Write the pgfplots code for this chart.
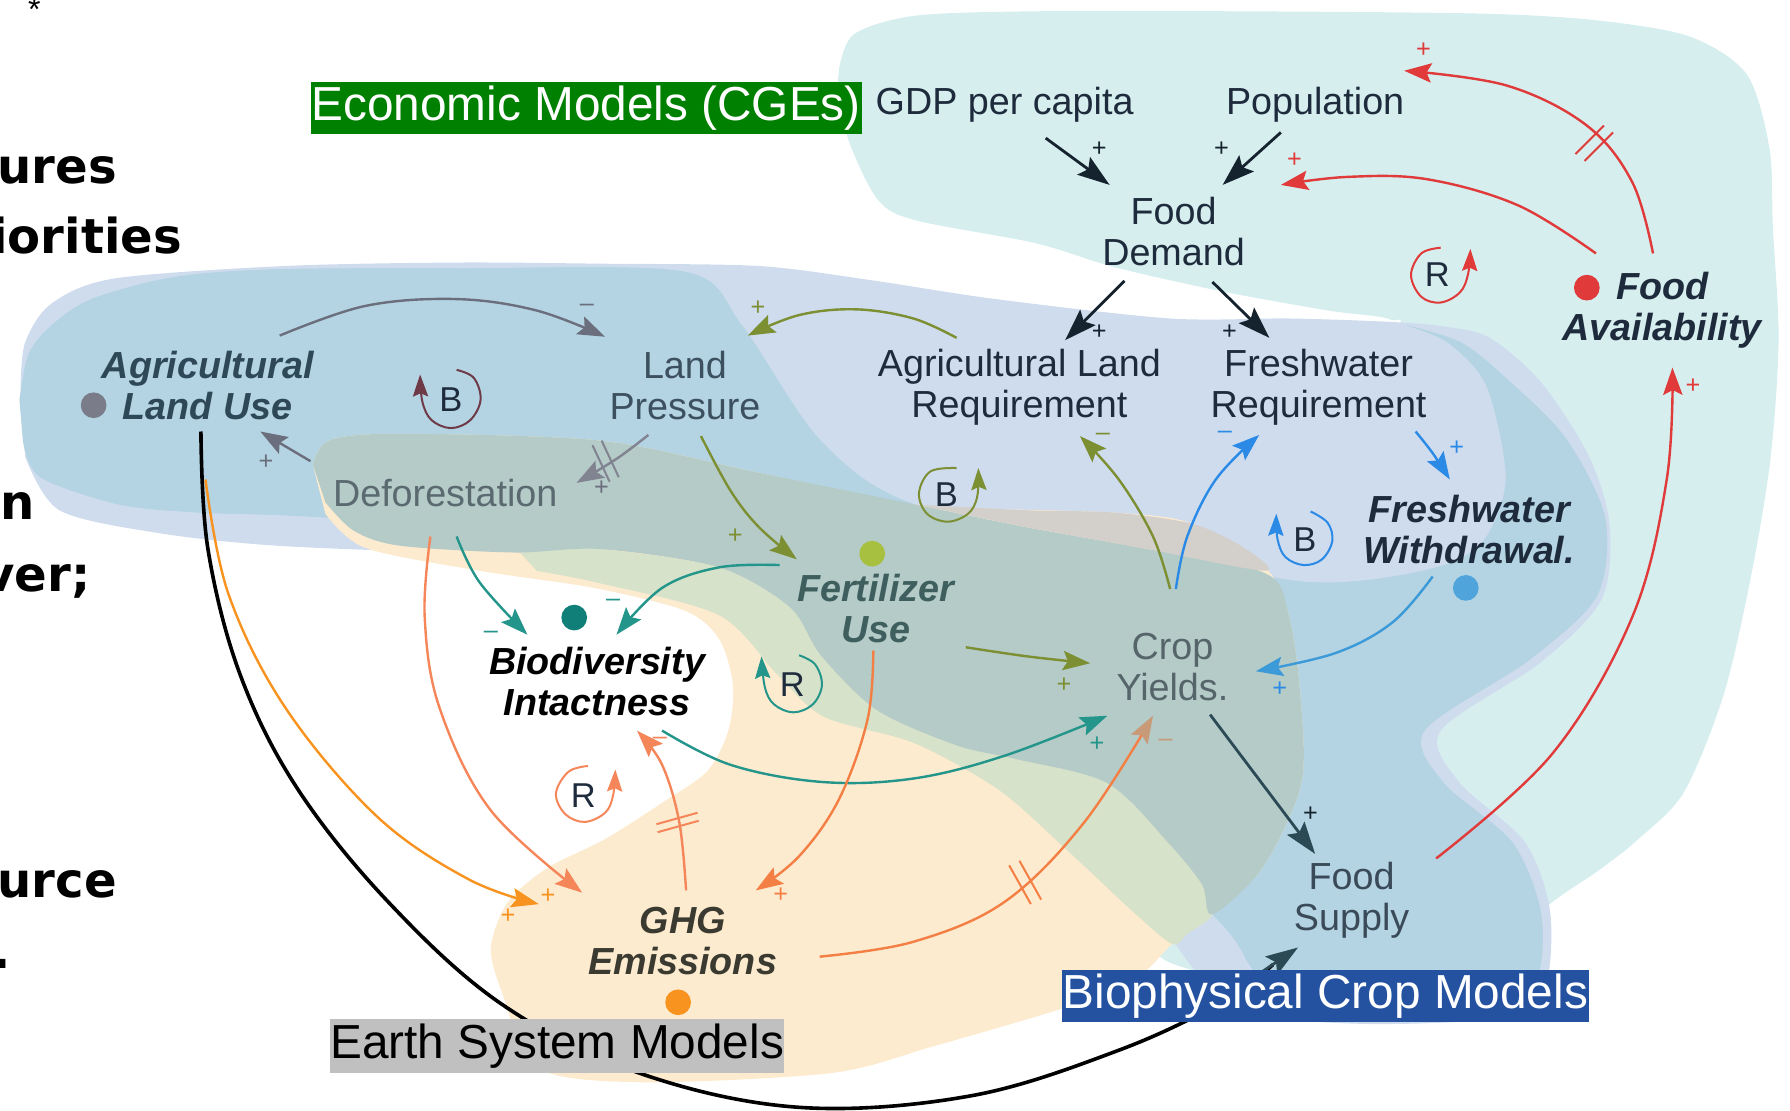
\documentclass[border=0pt]{standalone}
\usepackage{fontspec}
\setmainfont{Liberation Sans}
\newfontfamily\dvs{DejaVu Sans}
\usepackage{pgfplots}
\pgfplotsset{compat=1.18}
\usetikzlibrary{arrows.meta}
\definecolor{cyanC}{HTML}{D6EEEE}
\definecolor{lav}{HTML}{CFDCEE}
\definecolor{steel}{HTML}{B4D4E3}
\definecolor{peach}{HTML}{FDEBD0}
\definecolor{lgreen}{HTML}{D6E2C9}
\definecolor{gg}{HTML}{B4CBC8}
\definecolor{grayr}{HTML}{D3D0CC}
\definecolor{navy}{HTML}{1E2B3C}
\definecolor{darkA}{HTML}{15232E}
\definecolor{slateA}{HTML}{2B4A55}
\definecolor{grayA}{HTML}{6B6E7C}
\definecolor{maroonA}{HTML}{6E3A48}
\definecolor{oliveA}{HTML}{7D8F33}
\definecolor{blueA}{HTML}{2A8AE6}
\definecolor{blueB}{HTML}{3C9AD8}
\definecolor{tealA}{HTML}{23958A}
\definecolor{orangeA}{HTML}{F7931E}
\definecolor{salmonA}{HTML}{F5865A}
\definecolor{orangeB}{HTML}{F47F45}
\definecolor{tanA}{HTML}{C89A78}
\definecolor{redA}{HTML}{E03A3A}
\definecolor{econgreen}{HTML}{008000}
\definecolor{esmgray}{HTML}{C0C0C0}
\definecolor{biob}{HTML}{2452A0}
\tikzset{
 lab/.style={font=\fontsize{9.4}{10.24}\selectfont, align=center, inner sep=0pt},
 labbi/.style={font=\fontsize{9.4}{10.24}\selectfont\bfseries\itshape, align=center, inner sep=0pt},
 sg/.style={font=\fontsize{6.3}{6.3}\selectfont, inner sep=0pt},
 loopl/.style={font=\fontsize{8.6}{9}\selectfont, inner sep=0pt, text=navy},
 frag/.style={font=\fontsize{12}{12}\selectfont\dvs\bfseries, inner sep=0pt, anchor=base east},
 box/.style={inner sep=0pt, font=\fontsize{11.9}{12}\selectfont},
}
\pgfplotsset{
 ar/.style={smooth, tension=0.6, line width=0.6pt, -{Stealth[length=6.8pt,width=4.8pt,inset=1.2pt]}},
 ard/.style={smooth, tension=0.6, line width=0.7pt, -{Stealth[length=8pt,width=5.4pt,inset=1.4pt]}},
 blob/.style={smooth, tension=0.5, draw=none},
 hl/.style={line width=0.5pt},
 lp/.style={smooth, tension=0.6, line width=0.5pt, -{Stealth[length=5.5pt,width=3.8pt,inset=0.8pt]}},
 rect/.style={draw=none},
}
\begin{document}
\begin{tikzpicture}
\begin{axis}[width=156.8mm, height=97.3mm, scale only axis, xmin=0, xmax=1568, ymin=0, ymax=973, y dir=reverse, hide axis, clip=false, set layers]
\coordinate (BL) at (axis cs:0,973);
\coordinate (TR) at (axis cs:1568,0);
% ---- blobs
\addplot[blob, fill=cyanC] coordinates {(735,60) (748,30) (800,14) (900,10) (1100,10) (1300,12) (1400,18) (1480,32) (1530,65) (1550,130) (1553,200) (1558,297) (1551,401) (1534,504) (1510,608) (1475,694) (1434,736) (1401,762) (1353,796) (1320,840) (1250,880) (1150,878) (1050,852) (1010,822) (1060,700) (1150,500) (1222,300) (1218,280) (1163,272) (1069,255) (976,234) (907,213) (802,193) (769,175) (744,125) (733,80)} -- cycle;
\addplot[blob, fill=lav] coordinates {(18,340) (22,300) (45,266) (100,244) (250,233) (400,230) (526,231) (664,233) (760,245) (872,262) (1025,279) (1129,279) (1218,282) (1265,286) (1305,296) (1350,335) (1392,400) (1410,460) (1403,525) (1350,580) (1262,640) (1278,685) (1336,738) (1358,800) (1352,870) (1310,892) (1200,897) (1100,889) (1055,860) (1000,780) (900,600) (800,490) (600,486) (400,484) (242,478) (139,467) (52,447) (22,400)} -- cycle;
\addplot[blob, fill=steel] coordinates {(17,350) (25,310) (45,285) (80,262) (150,243) (236,236) (400,235) (600,238) (650,285) (719,386) (802,442) (1000,480) (1129,508) (1198,508) (1268,494) (1302,470) (1319,418) (1302,338) (1268,300) (1232,285) (1280,300) (1319,331) (1371,383) (1406,453) (1399,522) (1340,578) (1248,640) (1265,686) (1325,738) (1350,800) (1345,860) (1300,880) (1200,886) (1115,872) (1095,846) (1062,801) (900,650) (700,540) (500,470) (277,453) (173,449) (104,442) (35,418) (20,386)} -- cycle;
\addplot[blob, fill=peach] coordinates {(274,407) (288,386) (346,380) (526,386) (664,414) (802,442) (976,449) (1045,459) (1108,497) (1129,539) (1139,608) (1140,686) (1106,760) (1062,801) (1027,827) (994,858) (935,882) (816,917) (728,940) (560,948) (470,935) (440,870) (430,830) (445,790) (480,760) (530,735) (585,700) (620,675) (638,640) (642,600) (630,560) (600,535) (520,515) (420,500) (320,480) (285,450)} -- cycle;
\addplot[blob, fill=lgreen] coordinates {(450,478) (526,481) (630,497) (692,532) (719,574) (768,622) (838,653) (890,665) (970,686) (1024,739) (1053,775) (1062,801) (1040,818) (1027,827) (994,800) (935,745) (875,692) (801,651) (722,628) (681,591) (630,539) (526,511) (470,500)} -- cycle;
\addplot[blob, fill=gg] coordinates {(274,407) (288,386) (346,380) (526,386) (664,414) (802,442) (900,462) (1000,480) (1108,502) (1129,539) (1139,608) (1140,686) (1106,760) (1062,801) (1053,775) (1024,739) (970,686) (890,665) (838,653) (768,622) (719,574) (692,532) (630,497) (526,481) (450,484) (350,478) (310,465) (285,440)} -- cycle;
\addplot[blob, fill=grayr] coordinates {(802,442) (900,447) (976,449) (1045,459) (1090,480) (1108,500) (1000,480) (900,462)} -- cycle;
% ---- big black arc
\addplot[smooth, tension=0.6, line width=0.9pt, black] coordinates {(176,378) (182,480) (210,590) (260,690) (340,790) (440,880) (560,940) (700,970) (850,960) (980,920) (1070,878) (1115,845)};
\addplot[ard, slateA] coordinates {(1100,855) (1137,830)};
% ---- dark arrows
\addplot[ard, darkA] coordinates {(916,121) (972,162)};
\addplot[ard, darkA] coordinates {(1122,116) (1071,162)};
\addplot[ard, darkA] coordinates {(985,246) (933,298)};
\addplot[ard, darkA] coordinates {(1062,247) (1112,296)};
\addplot[ard, slateA] coordinates {(1060,626) (1152,748)};
% ---- gray arrows
\addplot[ar, grayA] coordinates {(245,294) (320,268) (400,262) (470,272) (530,295)};
\addplot[ar, grayA] coordinates {(272,404) (228,378)};
\addplot[ar, grayA!85!white] coordinates {(568,381) (540,402) (505,423)};
\addplot[hl, grayA!85!white] coordinates {(519,390) (534,422)};
\addplot[hl, grayA!85!white] coordinates {(527,386) (542,418)};
% ---- olive arrows
\addplot[ar, oliveA] coordinates {(838,296) (800,279) (750,271) (700,276) (655,294)};
\addplot[ar, oliveA] coordinates {(614,382) (640,430) (665,462) (698,490)};
\addplot[ar, oliveA] coordinates {(846,567) (900,575) (955,581)};
\addplot[ar, oliveA] coordinates {(1025,516) (1010,470) (980,420) (946,382)};
% ---- blue arrows
\addplot[ar, blueA] coordinates {(1030,516) (1040,470) (1065,420) (1103,381)};
\addplot[ar, blueA] coordinates {(1240,378) (1255,397) (1270,420)};
\addplot[ar, blueB] coordinates {(1255,505) (1220,545) (1170,572) (1100,588)};
% ---- teal arrows
\addplot[ar, tealA] coordinates {(400,470) (420,510) (462,556)};
\addplot[ar, tealA] coordinates {(683,495) (630,497) (580,515) (540,556)};
\addplot[ar, tealA] coordinates {(580,640) (640,670) (720,685) (800,682) (880,662) (970,627)};
% ---- orange arrows
\addplot[ar, orangeA] coordinates {(180,420) (200,520) (250,620) (330,715) (410,770) (472,792)};
\addplot[ar, salmonA] coordinates {(377,470) (372,540) (385,620) (430,710) (510,782)};
\addplot[ar, salmonA] coordinates {(601,780) (595,720) (580,670) (558,640)};
\addplot[hl, salmonA] coordinates {(575,722) (611,712)};
\addplot[hl, salmonA] coordinates {(576,729) (612,719)};
\addplot[ar, orangeB] coordinates {(765,570) (760,630) (735,700) (700,750) (662,780)};
\addplot[smooth, tension=0.6, line width=0.6pt, orangeB, -{Stealth[length=6.8pt,width=4.8pt,inset=1.2pt,color=tanA]}] coordinates {(718,838) (800,825) (880,790) (950,720) (1010,627)};
\addplot[hl, orangeB] coordinates {(884,758) (903,792)};
\addplot[hl, orangeB] coordinates {(893,754) (912,788)};
% ---- red arrows
\addplot[ar, redA] coordinates {(1448,222) (1430,160) (1390,110) (1320,75) (1230,62)};
\addplot[hl, redA] coordinates {(1380,135) (1405,110)};
\addplot[hl, redA] coordinates {(1388,141) (1413,116)};
\addplot[ar, redA] coordinates {(1398,222) (1330,180) (1250,157) (1180,155) (1122,162)};
\addplot[ar, redA] coordinates {(1258,752) (1360,660) (1430,540) (1460,420) (1465,322)};
% ---- loops
\addplot[lp, maroonA] coordinates {(400,324) (415,331) (421,350) (412,368) (395,375) (378,368) (370,352) (368,328)};
\addplot[lp, oliveA] coordinates {(838,410) (815,413) (805,432) (812,450) (830,457) (848,450) (856,435) (857,410)};
\addplot[lp, blueA] coordinates {(1148,448) (1163,458) (1167,474) (1158,490) (1142,495) (1126,488) (1119,472) (1118,450)};
\addplot[lp, redA] coordinates {(1262,217) (1245,222) (1236,241) (1245,260) (1262,265) (1279,256) (1286,240) (1288,218)};
\addplot[lp, tealA] coordinates {(700,574) (714,582) (720,600) (712,617) (695,624) (678,617) (670,602) (667,575)};
\addplot[lp, salmonA] coordinates {(515,671) (498,676) (487,695) (495,713) (512,720) (530,712) (537,697) (539,674)};
% ---- dots
\addplot[only marks, mark=*, mark size=3pt, color=grayA!90!white] coordinates {(82,355)};
\addplot[only marks, mark=*, mark size=3pt, color=redA] coordinates {(1390,252)};
\addplot[only marks, mark=*, mark size=3pt, color=blueB!90!white] coordinates {(1284,515)};
\addplot[only marks, mark=*, mark size=3pt, color={rgb,255:red,168;green,192;blue,64}] coordinates {(764,485)};
\addplot[only marks, mark=*, mark size=3pt, color={rgb,255:red,15;green,127;blue,120}] coordinates {(503,541)};
\addplot[only marks, mark=*, mark size=3pt, color=orangeA] coordinates {(594,878)};
% ---- model boxes (filled areas drawn after the lines)
\addplot[rect, fill=econgreen] coordinates {(272,72) (755,72) (755,117) (272,117)} -- cycle;
\addplot[rect, fill=esmgray] coordinates {(289,893) (687,893) (687,940) (289,940)} -- cycle;
\addplot[rect, fill=biob] coordinates {(930,850) (1392,850) (1392,895) (930,895)} -- cycle;
\begin{pgfonlayer}{axis foreground}
\node[box, text=white] at (513.5,94.5) {Economic Models (CGEs)};
\node[box, text=black] at (488,916.5) {Earth System Models};
\node[box, text=white] at (1161,872.5) {Biophysical Crop Models};
% loop letters
\node[loopl] at (395,350) {B};
\node[loopl] at (829,433) {B};
\node[loopl] at (1143,473) {B};
\node[loopl] at (1259,241) {R};
\node[loopl] at (694,600) {R};
\node[loopl] at (511,697) {R};
% ---- signs
\node[sg, text=darkA] at (963,131) {+};
\node[sg, text=darkA] at (1070,131) {+};
\node[sg, text=darkA] at (963,291) {+};
\node[sg, text=darkA] at (1077,291) {+};
\node[sg, text=darkA] at (1148,713) {+};
\node[sg, text=grayA] at (514,270) {–};
\node[sg, text=grayA] at (233,405) {+};
\node[sg, text=grayA] at (527,428) {+};
\node[sg, text=oliveA] at (664,270) {+};
\node[sg, text=oliveA] at (644,470) {+};
\node[sg, text=oliveA] at (932,600) {+};
\node[sg, text=oliveA] at (966,383) {–};
\node[sg, text=blueA] at (1073,381) {–};
\node[sg, text=blueA] at (1276,393) {+};
\node[sg, text=blueA] at (1121,604) {+};
\node[sg, text=tealA] at (430,556) {–};
\node[sg, text=tealA] at (537,528) {–};
\node[sg, text=tealA] at (961,652) {+};
\node[sg, text=orangeA] at (445,803) {+};
\node[sg, text=orangeA] at (480,785) {+};
\node[sg, text=orangeB] at (684,784) {+};
\node[sg, text=salmonA] at (578,649) {–};
\node[sg, text=tanA] at (1021,651) {–};
\node[sg, text=redA] at (1247,44) {+};
\node[sg, text=redA] at (1134,140) {+};
\node[sg, text=redA] at (1483,338) {+};
% ---- labels
\node[lab, text=navy] at (880,92) {GDP per capita};
\node[lab, text=navy] at (1152,92) {Population};
\node[lab, text=navy] at (1028,203) {Food\\Demand};
\node[lab, text=navy] at (893,339) {Agricultural Land\\Requirement};
\node[lab, text=navy] at (1155,339) {Freshwater\\Requirement};
\node[labbi, text=navy] at (1456,272) {Food\\Availability};
\node[labbi, text={rgb,255:red,47;green,72;blue,88}] at (182,338) {Agricultural\\Land Use};
\node[lab, text={rgb,255:red,60;green,80;blue,96}] at (600,338) {Land\\Pressure};
\node[lab, text={rgb,255:red,90;green,106;blue,112}] at (390,432) {Deforestation};
\node[labbi, text=navy] at (1287,464) {Freshwater\\Withdrawal.};
\node[labbi, text={rgb,255:red,63;green,95;blue,95}] at (767,533) {Fertilizer\\Use};
\node[labbi, text=black] at (523,597) {Biodiversity\\Intactness};
\node[lab, text={rgb,255:red,85;green,101;blue,106}] at (1027,584) {Crop\\Yields.};
\node[labbi, text={rgb,255:red,58;green,58;blue,48}] at (598,824) {GHG\\Emissions};
\node[lab, text={rgb,255:red,58;green,74;blue,88}] at (1184,789) {Food\\Supply};
% ---- cut-off slide text at the left edge, as in the reference
\node[font=\fontsize{8}{8}\selectfont, inner sep=0pt] at (30,8) {*};
\node[frag] at (103,161) {tures};
\node[frag] at (160,222) {iorities};
\node[frag] at (31,455) {n};
\node[frag] at (80,518) {ver;};
\node[frag] at (103,786) {urce};
\node[frag] at (10,848) {.};
\end{pgfonlayer}
\end{axis}
\pgfresetboundingbox
\path[use as bounding box] (BL) rectangle (TR);
\end{tikzpicture}
\end{document}
